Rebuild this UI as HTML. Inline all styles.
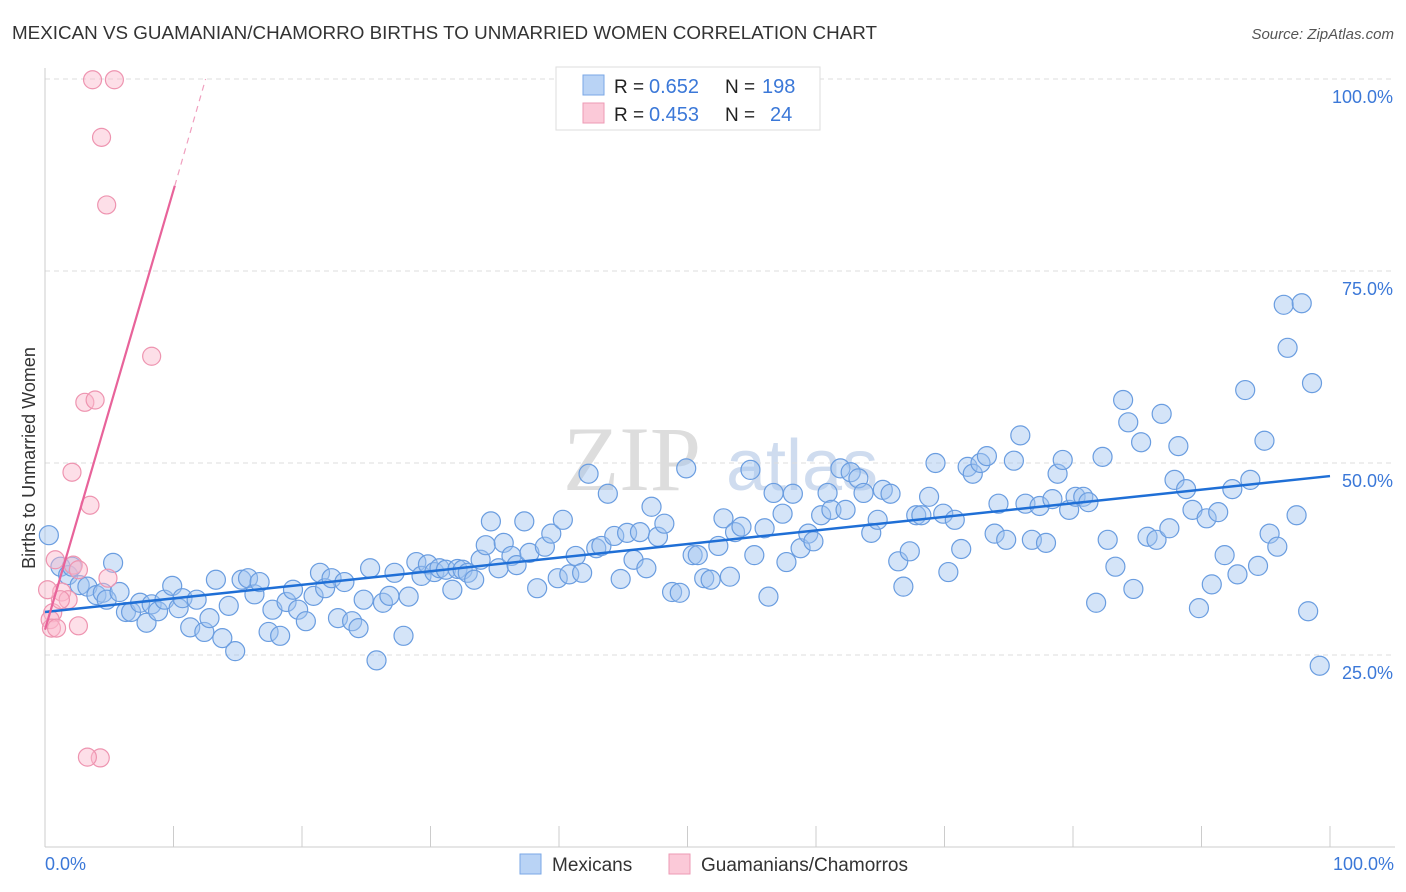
<!DOCTYPE html>
<html><head><meta charset="utf-8"><style>
body{margin:0;background:#fff;font-family:"Liberation Sans",sans-serif;}
svg{display:block}
</style></head><body>
<svg width="1406" height="892" xmlns="http://www.w3.org/2000/svg">
<text x="12" y="39" font-size="18" fill="#333" textLength="865" lengthAdjust="spacingAndGlyphs">MEXICAN VS GUAMANIAN/CHAMORRO BIRTHS TO UNMARRIED WOMEN CORRELATION CHART</text>
<text x="1394" y="39" font-size="15" fill="#555" font-style="italic" text-anchor="end">Source: ZipAtlas.com</text>
<text x="632" y="490" font-size="92" fill="#ddd" font-family="Liberation Serif" text-anchor="middle">ZIP</text>
<text x="802" y="490" font-size="72" fill="#cfdcef" text-anchor="middle">atlas</text>
<g id="grid"></g>
<line x1="45" y1="68" x2="45" y2="847" stroke="#ccc"/>
<line x1="45" y1="847" x2="1395" y2="847" stroke="#ccc"/>
<g id="xticks"></g>
<text x="35" y="458" font-size="18" fill="#333" text-anchor="middle" transform="rotate(-90 35 458)">Births to Unmarried Women</text>
<text x="45" y="870" font-size="18" fill="#3b78d8">0.0%</text>
<text x="1394" y="870" font-size="18" fill="#3b78d8" text-anchor="end">100.0%</text>
<g id="pts"></g>
<g id="trends"></g>
<g>
<rect x="556" y="67" width="264" height="63" fill="#fff" stroke="#ddd"/>
<rect x="583" y="75" width="21" height="20" fill="#b9d3f5" stroke="#7aa7e6"/>
<rect x="583" y="103" width="21" height="20" fill="#fbc9d8" stroke="#ee9ab4"/>
<text x="614" y="93" font-size="19" fill="#222">R =</text>
<text x="649" y="93" font-size="20" fill="#3b78d8">0.652</text>
<text x="725" y="93" font-size="19" fill="#222">N =</text>
<text x="762" y="93" font-size="20" fill="#3b78d8">198</text>
<text x="614" y="121" font-size="19" fill="#222">R =</text>
<text x="649" y="121" font-size="20" fill="#3b78d8">0.453</text>
<text x="725" y="121" font-size="19" fill="#222">N =</text>
<text x="770" y="121" font-size="20" fill="#3b78d8">24</text>
</g>
<g>
<rect x="520" y="854" width="21" height="20" fill="#b9d3f5" stroke="#7aa7e6"/>
<text x="552" y="871" font-size="19" fill="#333">Mexicans</text>
<rect x="669" y="854" width="21" height="20" fill="#fbc9d8" stroke="#ee9ab4"/>
<text x="701" y="871" font-size="19" fill="#333">Guamanians/Chamorros</text>
</g>
</svg>
<script>
const blueX=[0.3,1.2,1.8,2.1,2.7,3.3,4.0,4.5,4.8,5.3,5.8,6.3,6.7,7.4,7.9,8.3,8.8,9.3,9.9,10.4,10.7,11.3,11.8,12.4,12.8,13.3,13.8,14.3,14.8,15.3,15.8,16.3,16.7,17.4,17.7,18.3,18.8,19.3,19.7,20.3,20.9,21.4,21.8,22.3,22.8,23.3,23.9,24.4,24.8,25.3,25.8,26.3,26.8,27.2,27.9,28.3,28.9,29.3,29.8,30.3,30.7,31.2,31.7,32.1,32.5,32.9,33.4,33.9,34.3,34.7,35.3,35.7,36.3,36.7,37.3,37.7,38.3,38.9,39.4,39.9,40.3,40.8,41.3,41.8,42.3,42.9,43.3,43.8,44.3,44.8,45.3,45.8,46.3,46.8,47.2,47.7,48.2,48.8,49.4,49.9,50.4,50.8,51.3,51.8,52.4,52.8,53.3,53.7,54.2,54.9,55.2,56.0,56.3,56.7,57.4,57.7,58.2,58.8,59.4,59.8,60.4,60.9,61.2,61.9,62.3,62.7,63.3,63.7,64.3,64.8,65.2,65.8,66.4,66.8,67.3,67.8,68.2,68.8,69.3,69.9,70.3,70.8,71.3,71.8,72.2,72.8,73.3,73.9,74.2,74.8,75.4,75.9,76.3,76.8,77.4,77.9,78.4,78.8,79.2,79.7,80.2,80.8,81.2,81.8,82.3,82.7,83.3,83.9,84.3,84.7,85.3,85.8,86.5,86.9,87.5,87.9,88.2,88.8,89.3,89.8,90.4,90.8,91.3,91.8,92.4,92.8,93.4,93.8,94.4,94.9,95.3,95.9,96.4,96.7,97.4,97.8,98.3,98.6,99.2];
const blueY=[40.6,36.5,35.4,36.5,34.1,33.9,32.8,33.1,32.2,37.0,33.2,30.6,30.6,31.8,29.2,31.6,30.7,32.2,34.0,31.1,32.4,28.6,32.2,28.0,29.8,34.8,27.2,31.4,25.5,34.8,35.0,32.9,34.5,28.0,30.9,27.5,31.9,33.5,30.9,29.4,32.7,35.7,33.7,35.0,29.8,34.5,29.4,28.5,32.2,36.3,24.3,31.8,32.7,35.7,27.5,32.6,37.1,35.3,36.8,35.8,36.3,36.1,33.5,36.2,36.1,35.7,34.8,37.4,39.3,42.4,36.3,39.6,37.9,36.7,42.4,38.3,33.7,39.1,40.8,35.0,42.6,35.5,37.9,35.7,48.6,38.9,39.2,46.0,40.5,34.9,40.9,37.4,41.0,36.3,44.3,40.4,42.1,33.2,33.1,49.3,38.0,38.0,35.0,34.8,39.2,42.8,35.2,41.0,41.7,49.1,38.0,41.5,32.6,46.1,43.4,37.1,46.0,38.9,40.8,39.8,43.2,46.1,43.9,49.3,43.9,48.8,48.0,46.1,40.9,42.6,46.5,46.0,37.2,33.9,38.5,43.2,43.2,45.6,50.0,43.4,35.8,42.6,38.8,49.5,48.6,50.0,50.9,40.8,44.7,40.0,50.3,53.6,44.7,40.0,44.4,39.6,45.3,48.6,50.4,43.9,45.6,45.6,44.9,31.8,50.8,40.0,36.5,58.2,55.3,33.6,52.7,40.4,40.0,56.4,41.5,47.8,52.2,46.6,43.9,31.1,42.8,34.2,43.6,38.0,46.6,35.5,59.5,47.8,36.6,52.9,40.8,39.1,70.6,65.0,43.2,70.8,30.7,60.4,23.6];
const pinkX=[0.6,0.4,0.5,0.9,1.3,1.8,2.1,2.6,2.2,2.6,3.1,3.5,3.7,3.9,4.3,4.4,4.8,5.4,8.3,4.9,3.3,1.2,0.2,0.8];
const pinkY=[30.5,29.6,28.5,28.5,33.2,32.2,48.8,28.8,36.7,36.1,57.9,44.5,99.9,58.2,11.6,92.4,83.6,99.9,63.9,35.0,11.7,32.2,33.5,37.4];
const yTicks=[25,50,75,100];
const yTickLabels=["25.0%","50.0%","75.0%","100.0%"];
const xTicks=[0,10,20,30,40,50,60,70,80,90,100];
const blueTrend=[[0,30.6],[100,48.3]];
const pinkTrend=[[0,28.3],[10.1,86.1]];
const pinkTrendDash=[[10.1,86.1],[12.5,100]];
const NS="http://www.w3.org/2000/svg";
const sx=v=>45+v*12.85, sy=v=>847-v*7.68;
function mk(t,a,p){const e=document.createElementNS(NS,t);for(const k in a)e.setAttribute(k,a[k]);p.appendChild(e);return e;}
const grid=document.getElementById('grid');
yTicks.forEach((t,i)=>{
 const l=mk('line',{x1:45,x2:1395,y1:sy(t),y2:sy(t),stroke:'#ddd','stroke-dasharray':'5,4'},grid);
 
 
 const tx=mk('text',{x:1393,y:sy(t)+24,'font-size':18,fill:'#3b78d8','text-anchor':'end'},grid);
 tx.textContent=yTickLabels[i];
 
 
});
const xt=document.getElementById('xticks');
xTicks.forEach(t=>{
 const l=mk('line',{x1:sx(t),x2:sx(t),y1:826,y2:847,stroke:'#ccc'},xt);
 
 
});
const pts=document.getElementById('pts');
blueX.forEach((x,i)=>{
 const c=mk('circle',{cx:sx(x),cy:sy(blueY[i]),r:9.5,fill:'rgba(160,195,240,0.45)',stroke:'#6a9de0','stroke-width':1.2},pts);
 
 
});
pinkX.forEach((x,i)=>{
 const c=mk('circle',{cx:sx(x),cy:sy(pinkY[i]),r:9,fill:'rgba(250,185,205,0.45)',stroke:'#ee94b0','stroke-width':1.2},pts);
 
 
});
const tr=document.getElementById('trends');
const b=mk('line',{x1:sx(blueTrend[0][0]),y1:sy(blueTrend[0][1]),x2:sx(blueTrend[1][0]),y2:sy(blueTrend[1][1]),stroke:'#1f6fd6','stroke-width':2.5},tr);


const p=mk('line',{x1:sx(pinkTrend[0][0]),y1:sy(pinkTrend[0][1]),x2:sx(pinkTrend[1][0]),y2:sy(pinkTrend[1][1]),stroke:'#e8639a','stroke-width':2.2},tr);


const pd=mk('line',{x1:sx(pinkTrendDash[0][0]),y1:sy(pinkTrendDash[0][1]),x2:sx(pinkTrendDash[1][0]),y2:sy(pinkTrendDash[1][1]),stroke:'#f0a0bf','stroke-width':1.2,'stroke-dasharray':'6,5'},tr);


</script>
</body></html>
